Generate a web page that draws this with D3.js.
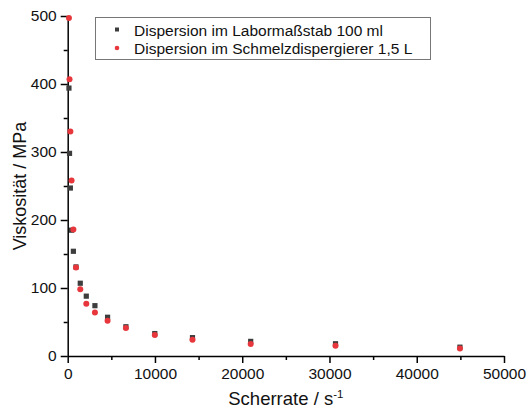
<!DOCTYPE html>
<html>
<head>
<meta charset="utf-8">
<script src="https://d3js.org/d3.v7.min.js"></script>
<style>
  body { margin: 0; background: #fff; }
  svg { display: block; font-family: "Liberation Sans", Arial, sans-serif; }
</style>
</head>
<body>
<div id="chart"></div>
<script>
// Scherrate (s^-1) values
const rateLabor = [143, 209, 305, 445, 650, 950, 1440, 2130, 3120, 4570, 6670, 9980, 14300, 20970, 30690, 44950];
const viscLabor = [394, 298, 247, 185, 154, 131, 107, 88, 74, 57, 43, 33, 27, 21.5, 18, 13];
const rateSchmelz = [143, 209, 305, 445, 650, 950, 1440, 2130, 3120, 4570, 6670, 9980, 14300, 20970, 30690, 44950];
const viscSchmelz = [497, 407, 330, 258, 186, 130, 98, 77, 64, 52, 41, 31, 24, 17.5, 15, 11];

const seriesNames = ["Dispersion im Labormaßstab 100 ml", "Dispersion im Schmelzdispergierer 1,5 L"];
const xTicks = [0, 10000, 20000, 30000, 40000, 50000];
const yTicks = [0, 100, 200, 300, 400, 500];

const width = 528, height = 410;
const margin = { left: 67.7, right: 24, top: 16, bottom: 54 };
const tickFont = 15.5;

const svg = d3.select("#chart").append("svg")
    .attr("width", width)
    .attr("height", height);

const x = d3.scaleLinear().domain([0, 50000]).range([margin.left, width - margin.right]);
const y = d3.scaleLinear().domain([0, 500]).range([height - margin.bottom, margin.top]);

// minor ticks
svg.append("g")
    .attr("transform", `translate(0,${y(0)})`)
    .call(d3.axisBottom(x).tickValues(d3.range(5000, 50000, 10000)).tickSize(4).tickFormat(""))
    .call(g => g.select(".domain").remove())
    .call(g => g.selectAll("line").attr("stroke-width", 1.5));
svg.append("g")
    .attr("transform", `translate(${x(0)},0)`)
    .call(d3.axisLeft(y).tickValues(d3.range(50, 500, 100)).tickSize(4).tickFormat(""))
    .call(g => g.select(".domain").remove())
    .call(g => g.selectAll("line").attr("stroke-width", 1.5));

// major axes
svg.append("g")
    .attr("transform", `translate(0,${y(0)})`)
    .call(d3.axisBottom(x).tickValues(xTicks).tickSize(7).tickSizeOuter(0).tickPadding(5).tickFormat(d3.format("d")))
    .call(g => g.select(".domain").attr("stroke-width", 1.5))
    .call(g => g.selectAll("line").attr("stroke-width", 1.5))
    .call(g => g.selectAll("text").attr("font-size", tickFont).attr("fill", "#111").style("font-family", "Liberation Sans, Arial, sans-serif"));

svg.append("g")
    .attr("transform", `translate(${x(0)},0)`)
    .call(d3.axisLeft(y).tickValues(yTicks).tickSize(7).tickSizeOuter(0).tickPadding(4))
    .call(g => g.select(".domain").attr("stroke-width", 1.5))
    .call(g => g.selectAll("line").attr("stroke-width", 1.5))
    .call(g => g.selectAll("text").attr("font-size", tickFont).attr("fill", "#111").style("font-family", "Liberation Sans, Arial, sans-serif"));

// axis titles
svg.append("text")
    .attr("x", (x(0) + x(50000)) / 2)
    .attr("y", 405)
    .attr("text-anchor", "middle")
    .attr("font-size", 18.5)
    .attr("fill", "#111")
    .call(t => {
        t.append("tspan").text("Scherrate / s");
        t.append("tspan").attr("dy", -7).attr("font-size", 11.5).text("-1");
    });

svg.append("text")
    .attr("transform", `translate(26,${y(250)}) rotate(-90)`)
    .attr("text-anchor", "middle")
    .attr("font-size", 18)
    .attr("fill", "#111")
    .text("Viskosität / MPa");

// data
const labor = rateLabor.map((r, i) => ({ r, v: viscLabor[i] }));
const schmelz = rateSchmelz.map((r, i) => ({ r, v: viscSchmelz[i] }));

svg.append("g")
  .selectAll("rect")
  .data(labor)
  .join("rect")
    .attr("x", d => x(d.r) - 2.6)
    .attr("y", d => y(d.v) - 2.6)
    .attr("width", 5.2)
    .attr("height", 5.2)
    .attr("fill", "#3d3d3d");

svg.append("g")
  .selectAll("circle")
  .data(schmelz)
  .join("circle")
    .attr("cx", d => x(d.r))
    .attr("cy", d => y(d.v))
    .attr("r", 3)
    .attr("fill", "#e8373c");

// legend
const lg = svg.append("g");
lg.append("rect")
    .attr("x", 95.5).attr("y", 17.5)
    .attr("width", 335).attr("height", 42)
    .attr("fill", "#fff")
    .attr("stroke", "#777")
    .attr("stroke-width", 1);
lg.append("rect")
    .attr("x", 115).attr("y", 27.5).attr("width", 4).attr("height", 4)
    .attr("fill", "#3d3d3d");
lg.append("circle")
    .attr("cx", 117).attr("cy", 48).attr("r", 2.3)
    .attr("fill", "#e8373c");
lg.selectAll("text")
  .data(seriesNames)
  .join("text")
    .attr("x", 134)
    .attr("y", (d, i) => 35.5 + i * 18.5)
    .attr("font-size", 15.5)
    .attr("fill", "#111")
    .text(d => d);
</script>
</body>
</html>
